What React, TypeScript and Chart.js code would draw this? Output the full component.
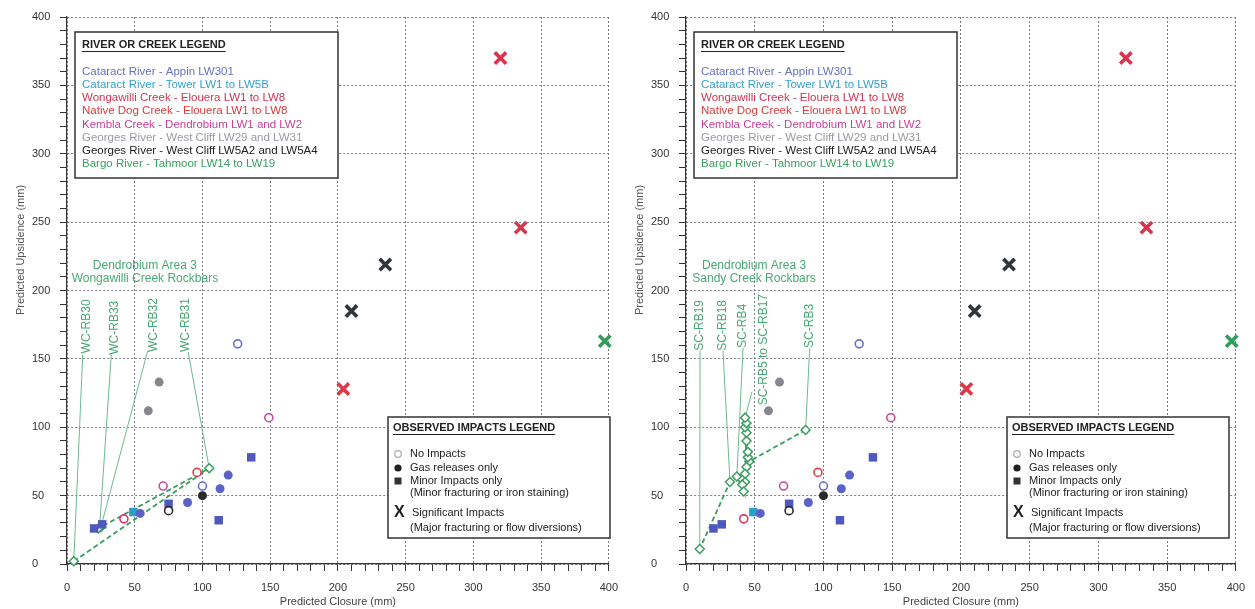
import { useEffect, useRef } from 'react';
import { Chart, registerables } from 'chart.js';
Chart.register(...registerables);

const FONT = '"Liberation Sans", Arial, Helvetica, sans-serif';

// ---------- observations: [predicted closure (mm), predicted upsidence (mm)] ----------
const appinNoImpact = [[126, 161], [100, 57]];
const appinGas = [[119, 65], [113, 55], [89, 45], [54, 37]];
const appinMinor = [[136, 78], [75, 44], [112, 32], [20, 26], [26, 29]];
const towerMinor = [[49, 38]];
const wongawilliNoImpact = [[42, 33]];
const wongawilliSignificant = [[320, 370], [335, 246]];
const nativeDogNoImpact = [[96, 67]];
const nativeDogSignificant = [[204, 128]];
const kemblaNoImpact = [[149, 107], [71, 57]];
const georges29Gas = [[68, 133], [60, 112]];
const georges5NoImpact = [[75, 39]];
const georges5Gas = [[100, 50]];
const georges5Significant = [[235, 219], [210, 185]];
const bargoSignificant = [[397, 163]];

// ---------- Dendrobium Area 3 rockbars ----------
const wcRockbars = [[5, 2], [105, 70], [25, 27], [23, 26]];
const wcLabels = ['WC-RB30', 'WC-RB33', 'WC-RB32', 'WC-RB31'];
const wcLabelAnchors = [[14.5, 154], [35, 153], [64, 155], [87.3, 155]];
const wcLeaders = [[11.6, 153, 5, 2], [32.7, 153, 24, 26], [59.6, 156, 25, 27], [89.5, 155, 105, 70]];
const wcTitle = ['Dendrobium Area 3', 'Wongawilli Creek Rockbars'];
const wcTitleAnchor = [57.5, 218, 209];

const scRockbars = [[87, 98], [46, 75], [45, 78], [45, 82], [44, 90], [44, 96], [43, 100], [44, 103], [43, 107],
  [44, 71], [43, 66], [43, 60], [41, 58], [42, 53], [37, 64], [32, 60], [10, 11]];
const scLabels = ['SC-RB19', 'SC-RB18', 'SC-RB4', 'SC-RB5 to SC-RB17', 'SC-RB3'];
const scLabelAnchors = [[10.2, 156], [26.9, 156], [41.5, 158], [56.7, 116], [90.2, 158]];
const scLeaders = [[10.2, 156, 10, 11], [26.9, 156, 32, 60], [41.5, 158, 37, 64], [48, 126, 43, 107], [90, 158, 87, 98]];
const scTitle = ['Dendrobium Area 3', 'Sandy Creek Rockbars'];
const scTitleAnchor = [49.5, 218, 209];

// ---------- legends ----------
const riverNames = [
  'Cataract River - Appin LW301',
  'Cataract River - Tower LW1 to LW5B',
  'Wongawilli Creek - Elouera LW1 to LW8',
  'Native Dog Creek - Elouera LW1 to LW8',
  'Kembla Creek - Dendrobium LW1 and LW2',
  'Georges River - West Cliff LW29 and LW31',
  'Georges River - West Cliff LW5A2 and LW5A4',
  'Bargo River - Tahmoor LW14 to LW19',
];
const riverColors = ['#6670c4', '#34a0d0', '#d23452', '#d83c3c', '#c8409c', '#9a9aa6', '#222222', '#3aa060'];
const impactRows = ['No Impacts', 'Gas releases only', 'Minor Impacts only', '(Minor fracturing or iron staining)'];
const significantRows = ['Significant Impacts', '(Major fracturing or flow diversions)'];

const tickValues = [0, 50, 100, 150, 200, 250, 300, 350, 400];

const GREEN = '#3a9e5e';
const LEADER = '#6cba8c';
const LABEL_GREEN = '#48a874';

const toXY = (a: number[][]) => a.map(([x, y]) => ({ x, y }));

function marker(data: number[][], color: string, kind: string): any {
  const base: any = { data: toXY(data), showLine: false, clip: false, pointBorderColor: color, borderColor: color, backgroundColor: color };
  if (kind === 'open') return { ...base, pointStyle: 'circle', pointRadius: 4, pointBorderWidth: 1.6, pointBackgroundColor: '#fff' };
  if (kind === 'gas') return { ...base, pointStyle: 'circle', pointRadius: 4.5, pointBorderWidth: 0, pointBackgroundColor: color };
  if (kind === 'minor') return { ...base, pointStyle: 'rect', pointRadius: 6, pointBorderWidth: 0, pointBackgroundColor: color };
  return { ...base, pointStyle: 'crossRot', pointRadius: 8, pointBorderWidth: 3.6, pointBackgroundColor: color };
}

function observationSets(): any[] {
  return [
    marker(wongawilliSignificant, '#d8364e', 'x'),
    marker(nativeDogSignificant, '#dc3a48', 'x'),
    marker(georges5Significant, '#30363c', 'x'),
    marker(bargoSignificant, '#2e9e58', 'x'),
    marker(appinNoImpact, '#6a72c8', 'open'),
    marker(kemblaNoImpact, '#cc4aa0', 'open'),
    marker(nativeDogNoImpact, '#d84848', 'open'),
    marker(wongawilliNoImpact, '#d03a6a', 'open'),
    marker(georges5NoImpact, '#2a2a2a', 'open'),
    marker(appinGas, '#5a62c6', 'gas'),
    marker(georges29Gas, '#86868e', 'gas'),
    marker(georges5Gas, '#2a2a2a', 'gas'),
    marker(appinMinor, '#4f58bc', 'minor'),
    marker(towerMinor, '#2aa0cc', 'minor'),
  ];
}

function rockbarSets(rock: number[][], leaders: number[][]): any[] {
  const sets: any[] = [{
    data: toXY(rock), showLine: true, clip: false, borderColor: GREEN, borderWidth: 1.8, borderDash: [5, 3],
    pointStyle: 'rectRot', pointRadius: 4.5, pointBorderWidth: 1.5, pointBorderColor: GREEN, pointBackgroundColor: '#fff',
  }];
  leaders.forEach(([x1, y1, x2, y2]) => sets.push({
    data: [{ x: x1, y: y1 }, { x: x2, y: y2 }], showLine: true, clip: false, borderColor: LEADER, borderWidth: 1, pointRadius: 0,
  }));
  return sets;
}

function axis(title: string | null, horizontal: boolean): any {
  return {
    type: 'linear', min: 0, max: 400,
    ticks: {
      stepSize: 10, maxTicksLimit: 100, autoSkip: false, maxRotation: 0, minRotation: 0,
      color: '#333', font: { family: FONT, size: 11 }, padding: 10,
      crossAlign: horizontal ? 'near' : 'far',
      callback: (v: number) => (tickValues.includes(v) ? String(v) : ''),
    },
    grid: {
      color: (c: any) => (c.tick && tickValues.includes(c.tick.value) ? '#7c7c84' : 'rgba(0,0,0,0)'),
      lineWidth: 1, tickColor: '#333', tickLength: 7, tickWidth: 1, drawTicks: true,
    },
    border: { display: true, color: '#333', width: 1.2, dash: [2, 2] },
    title: title ? { display: true, text: title, color: '#444', font: { family: FONT, size: 11 }, padding: { top: 0, bottom: 0 } } : { display: false },
    afterFit: (s: any) => { if (horizontal) s.height = 45; else s.width = 35; },
  };
}

function overlay(labels: string[], anchors: number[][], title: string[], titleAnchor: number[]) {
  return {
    id: 'overlay',
    afterDraw(chart: any) {
      const { ctx, chartArea: a, scales } = chart;
      const X = (v: number) => scales.x.getPixelForValue(v);
      const Y = (v: number) => scales.y.getPixelForValue(v);

      // y axis title
      ctx.save();
      ctx.fillStyle = '#555';
      ctx.font = `11px ${FONT}`;
      ctx.textAlign = 'center';
      ctx.textBaseline = 'middle';
      ctx.translate(a.left - 46, 250);
      ctx.rotate(-Math.PI / 2);
      ctx.fillText('Predicted Upsidence (mm)', 0, 0);
      ctx.restore();

      // rockbar titles & labels
      ctx.save();
      ctx.fillStyle = LABEL_GREEN;
      ctx.font = `12px ${FONT}`;
      ctx.textAlign = 'center';
      ctx.textBaseline = 'middle';
      ctx.fillText(title[0], X(titleAnchor[0]), Y(titleAnchor[1]));
      ctx.fillText(title[1], X(titleAnchor[0]), Y(titleAnchor[2]));
      labels.forEach((t, i) => {
        ctx.save();
        ctx.translate(X(anchors[i][0]), Y(anchors[i][1]));
        ctx.rotate(-Math.PI / 2);
        ctx.textAlign = 'left';
        ctx.fillText(t, 0, 0);
        ctx.restore();
      });
      ctx.restore();

      // river legend
      const bx = a.left + 8, by = 32, bw = 263, bh = 146;
      ctx.save();
      ctx.fillStyle = '#fff';
      ctx.fillRect(bx, by, bw, bh);
      ctx.strokeStyle = '#333';
      ctx.lineWidth = 1.5;
      ctx.strokeRect(bx, by, bw, bh);
      ctx.textAlign = 'left';
      ctx.textBaseline = 'middle';
      ctx.font = `bold 11px ${FONT}`;
      ctx.fillStyle = '#222';
      const t1 = 'RIVER OR CREEK LEGEND';
      ctx.fillText(t1, bx + 7, by + 13);
      const w1 = ctx.measureText(t1).width;
      ctx.fillRect(bx + 7, by + 19, w1, 1);
      ctx.font = `11.5px ${FONT}`;
      riverNames.forEach((n, i) => {
        ctx.fillStyle = riverColors[i];
        ctx.fillText(n, bx + 7, by + 40 + i * 13.1);
      });
      ctx.restore();

      // observed impacts legend
      const ox = a.left + 321, oy = 417, ow = 222, oh = 121;
      ctx.save();
      ctx.fillStyle = '#fff';
      ctx.fillRect(ox, oy, ow, oh);
      ctx.strokeStyle = '#333';
      ctx.lineWidth = 1.5;
      ctx.strokeRect(ox, oy, ow, oh);
      ctx.textAlign = 'left';
      ctx.textBaseline = 'middle';
      ctx.font = `bold 11px ${FONT}`;
      ctx.fillStyle = '#222';
      const t2 = 'OBSERVED IMPACTS LEGEND';
      ctx.fillText(t2, ox + 5, oy + 11);
      const w2 = ctx.measureText(t2).width;
      ctx.fillRect(ox + 5, oy + 17, w2, 1);
      ctx.font = `11px ${FONT}`;
      const rowsY = [37, 51, 64, 76];
      impactRows.forEach((r, i) => ctx.fillText(r, ox + 22, oy + rowsY[i]));
      // markers
      ctx.beginPath();
      ctx.arc(ox + 10, oy + 37, 3.3, 0, Math.PI * 2);
      ctx.strokeStyle = '#aaa';
      ctx.lineWidth = 1.2;
      ctx.stroke();
      ctx.beginPath();
      ctx.arc(ox + 10, oy + 51, 3.6, 0, Math.PI * 2);
      ctx.fillStyle = '#222';
      ctx.fill();
      ctx.fillStyle = '#333';
      ctx.fillRect(ox + 6.5, oy + 60.5, 7, 7);
      ctx.fillStyle = '#222';
      ctx.font = `bold 16px ${FONT}`;
      ctx.fillText('X', ox + 6, oy + 96);
      ctx.font = `11px ${FONT}`;
      ctx.fillText(significantRows[0], ox + 24, oy + 96);
      ctx.fillText(significantRows[1], ox + 22, oy + 111);
      ctx.restore();
    },
  };
}

type PanelProps = {
  width: number; left: number; padLeft: number; padRight: number;
  rock: number[][]; leaders: number[][]; labels: string[]; anchors: number[][]; title: string[]; titleAnchor: number[];
};

function Panel(p: PanelProps) {
  const ref = useRef<HTMLCanvasElement>(null);
  useEffect(() => {
    if (!ref.current) return;
    const chart = new Chart(ref.current, {
      type: 'scatter',
      data: { datasets: [...observationSets(), ...rockbarSets(p.rock, p.leaders)] },
      options: {
        animation: false,
        responsive: false,
        devicePixelRatio: 1,
        layout: { padding: { left: p.padLeft, right: p.padRight, top: 17, bottom: 0 } },
        plugins: { legend: { display: false }, tooltip: { enabled: false }, title: { display: false } },
        scales: { x: axis('Predicted Closure (mm)', true), y: axis(null, false) },
      } as any,
      plugins: [overlay(p.labels, p.anchors, p.title, p.titleAnchor)],
    });
    return () => chart.destroy();
  }, []);
  return (
    <canvas ref={ref} width={p.width} height={609}
      style={{ position: 'absolute', left: p.left, top: 0, width: p.width, height: 609 }} />
  );
}

export default function App() {
  return (
    <div style={{ position: 'fixed', left: 0, top: 0, width: 1255, height: 609, background: '#fff', overflow: 'hidden' }}>
      <Panel width={628} left={0} padLeft={32} padRight={11}
        rock={wcRockbars} leaders={wcLeaders} labels={wcLabels} anchors={wcLabelAnchors} title={wcTitle} titleAnchor={wcTitleAnchor} />
      <Panel width={627} left={628} padLeft={23} padRight={19}
        rock={scRockbars} leaders={scLeaders} labels={scLabels} anchors={scLabelAnchors} title={scTitle} titleAnchor={scTitleAnchor} />
    </div>
  );
}
